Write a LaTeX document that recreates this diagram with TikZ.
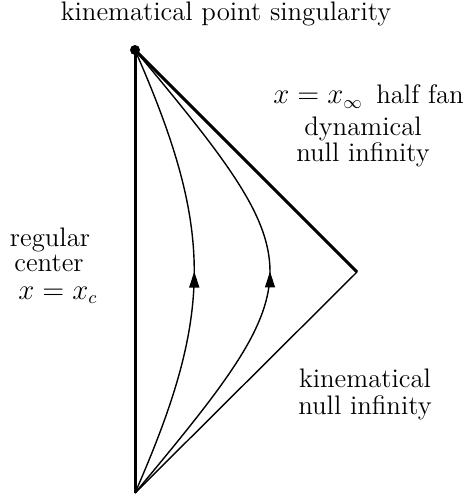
\documentclass[tikz,border=0pt]{standalone}
\usetikzlibrary{arrows.meta,decorations.markings}
\begin{document}
\begin{tikzpicture}[x=0.5pt,y=-0.5pt,
  lbl/.style={inner sep=0pt,font=\fontsize{13.4}{13.4}\selectfont},
  thickline/.style={line width=1.5pt},
  thinline/.style={line width=0.7pt},
  flow/.style={line width=0.7pt,postaction={decorate},
    decoration={markings,mark=at position 0.5 with {\arrow{Triangle[length=8pt,width=5pt]}}}}]
\useasboundingbox (0,0) rectangle (468,497);
\coordinate (T) at (135,50);
\coordinate (B) at (135,493);
\coordinate (R) at (357,272);
\draw[thickline] (T) -- (B);
\draw[thickline] (T) -- (R);
\draw[thinline] (R) -- (B);
\draw[flow] (B) .. controls (214,313) and (214,230) .. (T);
\draw[flow] (B) .. controls (315,277) and (315,266) .. (T);
\fill (T) circle (5);
\node[lbl,anchor=base] (top) at (226,21) {kinematical point singularity};
\node[lbl,anchor=base west] (fan) at (273,104) {$x=x_\infty$\enskip half fan};
\node[lbl,anchor=base] (dyn1) at (363,136) {dynamical};
\node[lbl,anchor=base] (dyn2) at (363,162) {null infinity};
\node[lbl,anchor=base] (reg1) at (50,246) {regular};
\node[lbl,anchor=base] (reg2) at (49,271) {center};
\node[lbl,anchor=base west] (xc) at (18,299) {$x=x_c$};
\node[lbl,anchor=base] (kin1) at (365,387) {kinematical};
\node[lbl,anchor=base] (kin2) at (365,414) {null infinity};
\end{tikzpicture}
\end{document}
